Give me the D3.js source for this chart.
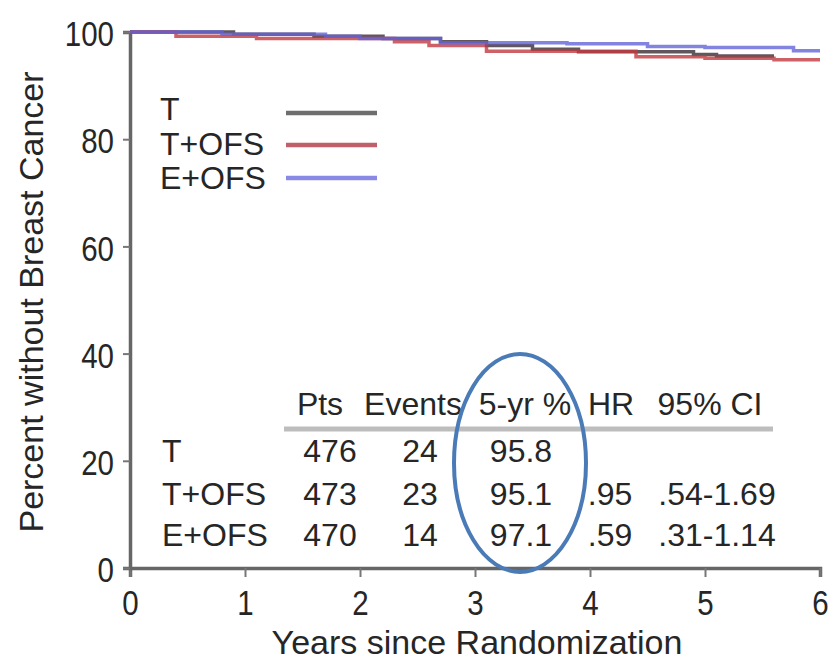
<!DOCTYPE html>
<html><head><meta charset="utf-8">
<script src="https://cdn.jsdelivr.net/npm/d3@7"></script>
<style>
body{margin:0;background:#fff;}
text{font-family:"Liberation Sans",Arial,sans-serif;fill:#262626;}
</style></head>
<body><svg id="c" width="832" height="662"></svg>
<script>
// Data
const seriesNames = ["T", "T+OFS", "E+OFS"];
const seriesColors = ["#3a2c30", "#c03a40", "#6464d8"];
const legendColors = ["#6e6e6e", "#c0606a", "#8a8ae6"];
const tTimes   = [0, 0.9, 1.6, 2.2, 2.7, 3.1, 3.5, 3.9, 4.9, 5.1, 5.6];
const tValues  = [100, 99.6, 99.2, 98.8, 98.2, 97.5, 96.8, 96.3, 95.8, 95.5, 95.5];
const toTimes  = [0, 0.4, 1.1, 2.3, 2.6, 3.1, 4.4, 5.0, 5.6, 6.0];
const toValues = [100, 99.2, 98.8, 98.2, 97.5, 96.4, 95.4, 95.1, 94.8, 94.8];
const eoTimes  = [0, 0.8, 1.7, 2.0, 2.7, 3.8, 4.5, 5.0, 5.77, 6.0];
const eoValues = [100, 99.6, 99.2, 98.8, 98.0, 97.8, 97.3, 97.1, 96.5, 96.5];
const xTicks = [0, 1, 2, 3, 4, 5, 6];
const yTicks = [0, 20, 40, 60, 80, 100];
const tableHeader = ["Pts", "Events", "5-yr %", "HR", "95% CI"];
const tablePts    = ["476", "473", "470"];
const tableEvents = ["24", "23", "14"];
const tableFive   = ["95.8", "95.1", "97.1"];
const tableHR     = ["", ".95", ".59"];
const tableCI     = ["", ".54-1.69", ".31-1.14"];

const svg = d3.select("#c");
const x = d3.scaleLinear().domain([0, 6]).range([130, 820]);
const y = d3.scaleLinear().domain([0, 100]).range([568, 32]);
const sx = 0.82;

// axes
const xAxis = svg.append("g").attr("transform", "translate(0,568)")
  .call(d3.axisBottom(x).tickValues(xTicks).tickSize(9).tickPadding(8).tickFormat(d3.format("d")));
const yAxis = svg.append("g").attr("transform", "translate(130,0)")
  .call(d3.axisLeft(y).tickValues(yTicks).tickSize(7).tickPadding(4).tickFormat(d3.format("d")));
[xAxis, yAxis].forEach(a => {
  a.select(".domain").attr("stroke", "#666").attr("stroke-width", 3.5);
  a.selectAll(".tick line").attr("stroke", "#777").attr("stroke-width", 2);
  a.selectAll("text").style("font-size", "36px").attr("fill", "#262626")
    .attr("font-family", "Liberation Sans, Arial, sans-serif");
});
yAxis.selectAll(".tick text").attr("x", -16 / sx).attr("dy", "0.38em")
  .attr("transform", `scale(${sx},1)`);
xAxis.selectAll(".tick text").attr("y", 0).attr("dy", 0)
  .attr("transform", `translate(0,47) scale(${sx},1)`);

svg.append("text").attr("x", 477).attr("y", 654).attr("text-anchor", "middle")
  .style("font-size", "34px").text("Years since Randomization");
svg.append("text").attr("transform", "translate(43,302) rotate(-90)").attr("text-anchor", "middle")
  .style("font-size", "34px").text("Percent without Breast Cancer");

// curves
const series = [
  {t: tTimes, v: tValues},
  {t: toTimes, v: toValues},
  {t: eoTimes, v: eoValues}
];
const line = d3.line().x(d => x(d[0])).y(d => y(d[1])).curve(d3.curveStepAfter);
series.forEach((s, i) => {
  const pts = s.t.map((t, j) => [t, s.v[j]]);
  svg.append("path").datum(pts).attr("d", line).attr("fill", "none")
    .attr("stroke", seriesColors[i]).attr("stroke-width", 3.5).attr("opacity", 0.8);
});

// legend
const legLineY = [113, 145, 178];
const legTextY = [120, 155, 189];
seriesNames.forEach((n, i) => {
  svg.append("text").attr("x", 160).attr("y", legTextY[i])
    .style("font-size", "32px").text(n);
  svg.append("line").attr("x1", 286).attr("x2", 377).attr("y1", legLineY[i]).attr("y2", legLineY[i])
    .attr("stroke", legendColors[i]).attr("stroke-width", 4.5);
});

// table
const headX = [320, 413, 525, 611, 710];
const headY = 415, rowY = [462, 505, 546];
tableHeader.forEach((h, i) => {
  svg.append("text").attr("x", headX[i]).attr("y", headY).attr("text-anchor", "middle")
    .style("font-size", "32px").text(h);
});
svg.append("line").attr("x1", 284).attr("x2", 773).attr("y1", 429).attr("y2", 429)
  .attr("stroke", "#bdbdbd").attr("stroke-width", 5);
const cols = [tablePts, tableEvents, tableFive, tableHR, tableCI];
const valX = [330, 420, 521, 610, 717];
seriesNames.forEach((n, r) => {
  svg.append("text").attr("x", 162).attr("y", rowY[r]).style("font-size", "32px").text(n);
  cols.forEach((c, ci) => {
    svg.append("text").attr("x", valX[ci]).attr("y", rowY[r]).attr("text-anchor", "middle")
      .style("font-size", "32px").text(c[r]);
  });
});

// ellipse highlight
svg.append("ellipse").attr("cx", 520).attr("cy", 463).attr("rx", 66).attr("ry", 109)
  .attr("fill", "none").attr("stroke", "#4a7bb7").attr("stroke-width", 4);
</script></body></html>
